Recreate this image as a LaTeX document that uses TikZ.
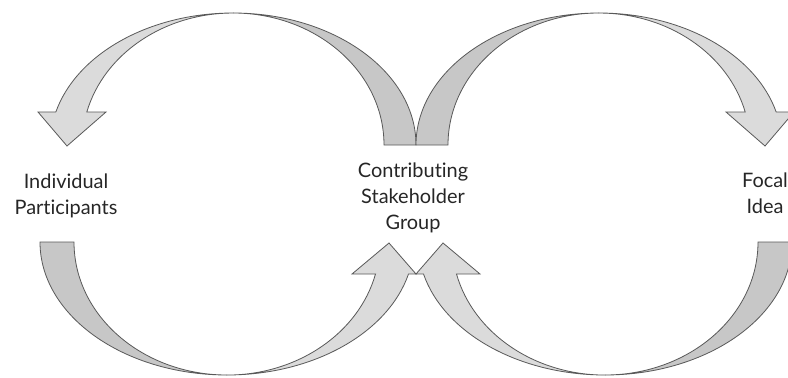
\documentclass[tikz,border=0pt]{standalone}
\usepackage{fontspec}
\setmainfont[Ligatures=NoCommon]{Lato}
\begin{document}
\begin{tikzpicture}[x=1bp, y=1bp,
    every node/.style = {align=center, text=black!85,
      font=\fontsize{20}{26}\selectfont},
    darkband/.style = {draw=black!65, fill=black!22, line width=0.8bp},
    lightband/.style = {draw=black!65, fill=black!14, line width=0.8bp}]
\useasboundingbox (0,0) rectangle (788,377);
\clip (0,0) rectangle (788,377);
\node (indiv) at (66,181) {Individual\\Participants};
\node (contrib) at (413,179) {Contributing\\Stakeholder\\Group};
\node (focal) at (765,184) {Focal\\Idea};
\foreach \shiftx/\mirror in {0/1, 832/-1}{
\begin{scope}[shift={(\shiftx,0)}, xscale=\mirror]
\path[darkband] (416,232) arc[start angle=0, end angle=90, x radius=183, y radius=132]
  arc[start angle=90, end angle=0, x radius=151, y radius=132] -- cycle;
\path[lightband] (233,364) arc[start angle=90, end angle=165.5, x radius=183, y radius=132]
  -- (38,265) -- (67,231) -- (106,265) -- (86.8,265)
  arc[start angle=165.5, end angle=90, x radius=151, y radius=132] -- cycle;
\path[darkband] (40,135) arc[start angle=180, end angle=270, x radius=187, y radius=133]
  arc[start angle=270, end angle=180, x radius=153, y radius=133] -- cycle;
\path[lightband] (227,2) arc[start angle=270, end angle=346.1, x radius=187, y radius=133]
  -- (416,103) -- (389,134) -- (352,103) -- (375.5,103)
  arc[start angle=346.1, end angle=270, x radius=153, y radius=133] -- cycle;
\end{scope}
}
\end{tikzpicture}
\end{document}
